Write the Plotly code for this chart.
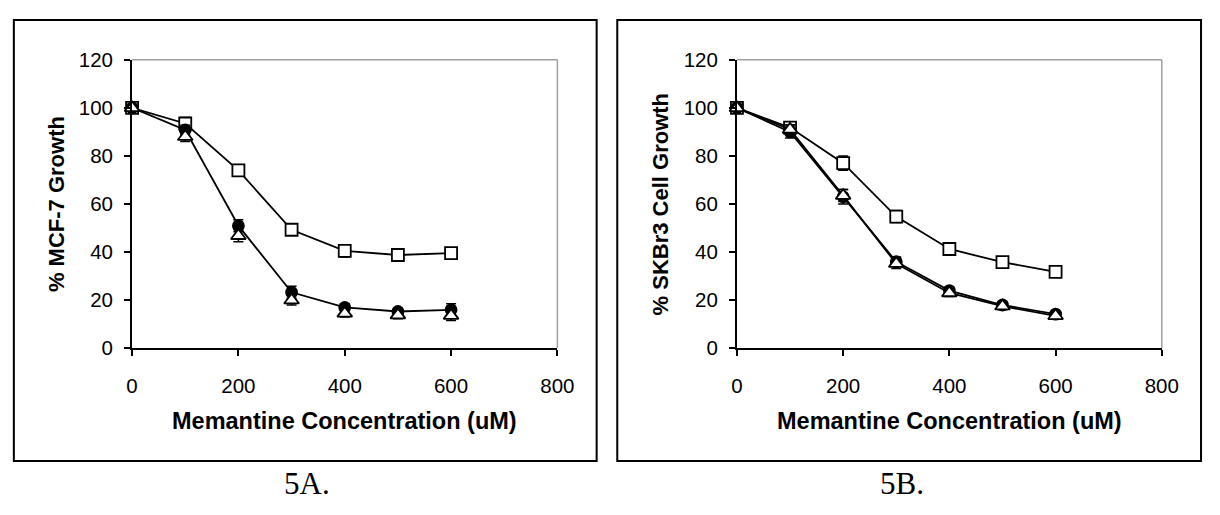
import plotly.graph_objects as go

# ---- data ----
conc = [0, 100, 200, 300, 400, 500, 600]

mcf7_square = [100, 93.5, 74, 49.3, 40.5, 38.8, 39.6]
mcf7_circle = [100, 90.8, 51, 23.3, 17, 15.3, 16]
mcf7_triangle = [100, 88, 46.8, 20, 14.5, 13.8, 13.6]
mcf7_square_err = [1, 2.5, 2, 2, 2.5, 1.5, 2]
mcf7_circle_err = [1, 2, 2.5, 2.5, 1.5, 1.5, 2.5]
mcf7_triangle_err = [1, 2, 2.5, 2, 1.5, 1.5, 2]

skbr3_square = [100, 91.8, 77, 54.8, 41.3, 35.8, 31.8]
skbr3_circle = [100, 90, 63, 36, 24, 18, 14.2]
skbr3_triangle = [100, 91, 63.5, 35.2, 23, 17.5, 13.5]
skbr3_square_err = [1, 1.5, 3, 2.5, 1.5, 1.5, 1.5]
skbr3_circle_err = [1, 2.5, 3, 2, 1.5, 1.5, 1]
skbr3_triangle_err = [1, 2, 2.5, 2, 1.5, 1.5, 1]

x_ticks = [0, 200, 400, 600, 800]
y_ticks = [0, 20, 40, 60, 80, 100, 120]

W, H = 1220, 515
def px(x):
    return x / W
def py(y):
    return (H - y) / H

fig = go.Figure()

def add_series(xa, ya, y, err, symbol, fill, size, with_line=True):
    fig.add_trace(go.Scatter(
        x=conc, y=y, xaxis=xa, yaxis=ya,
        mode="lines+markers" if with_line else "markers",
        line=dict(color="black", width=1.8),
        marker=dict(symbol=symbol, size=size, color=fill,
                    line=dict(color="black", width=1.8)),
        error_y=dict(type="data", array=err, visible=True,
                     color="black", thickness=1.5, width=5),
        cliponaxis=False, showlegend=False, hoverinfo="x+y"))

add_series("x", "y", mcf7_square, mcf7_square_err, "square", "white", 12)
add_series("x", "y", mcf7_circle, mcf7_circle_err, "circle", "black", 11)
add_series("x", "y", mcf7_triangle, mcf7_triangle_err, "triangle-up", "white", 13, with_line=False)
add_series("x2", "y2", skbr3_square, skbr3_square_err, "square", "white", 12)
add_series("x2", "y2", skbr3_circle, skbr3_circle_err, "circle", "black", 11)
add_series("x2", "y2", skbr3_triangle, skbr3_triangle_err, "triangle-up", "white", 13)

tick_font = dict(family="Liberation Sans, Arial, sans-serif", size=20.5, color="black")
xaxis_common = dict(range=[0, 800], tickvals=x_ticks, showline=True, linecolor="black",
                    linewidth=2, ticks="outside", ticklen=6, tickwidth=1.5,
                    tickcolor="black", showgrid=False, zeroline=False,
                    tickfont=tick_font, ticklabelstandoff=12)
yaxis_common = dict(range=[0, 120], tickvals=y_ticks, showline=True, linecolor="black",
                    linewidth=2, ticks="outside", ticklen=6, tickwidth=1.5,
                    tickcolor="black", showgrid=False, zeroline=False,
                    tickfont=tick_font, ticklabelstandoff=7)

yd = [py(352), py(50)]
fig.update_layout(
    width=W, height=H, margin=dict(l=0, r=0, t=0, b=0),
    paper_bgcolor="white", plot_bgcolor="white",
    xaxis=dict(domain=[px(128.5), px(562)], anchor="y", **xaxis_common),
    yaxis=dict(domain=yd, anchor="x", **yaxis_common),
    xaxis2=dict(domain=[px(745), px(1178)], anchor="y2", **xaxis_common),
    yaxis2=dict(domain=yd, anchor="x2", **yaxis_common),
)

shapes = []
for xr, yr in [("x domain", "y domain"), ("x2 domain", "y2 domain")]:
    shapes.append(dict(type="line", xref=xr, yref=yr, x0=0, x1=1, y0=1, y1=1,
                       line=dict(color="#a0a0a0", width=1.5), layer="below"))
    shapes.append(dict(type="line", xref=xr, yref=yr, x0=1, x1=1, y0=0, y1=1,
                       line=dict(color="#a0a0a0", width=1.5), layer="below"))
for x0, x1 in [(8, 602), (623, 1218)]:
    shapes.append(dict(type="rect", xref="paper", yref="paper",
                       x0=px(x0), x1=px(x1), y0=py(470), y1=py(8.5),
                       line=dict(color="black", width=2)))
fig.update_layout(shapes=shapes)

ytitle_font = dict(family="Liberation Sans, Arial, sans-serif", size=22, color="black")
xtitle_font = dict(family="Liberation Sans, Arial, sans-serif", size=23.5, color="black")
ann = []
for cx, ytitle in [(51, "% MCF-7 Growth"), (667, "% SKBr3 Cell Growth")]:
    ann.append(dict(text="<b>%s</b>" % ytitle, x=px(cx), y=py(201), xref="paper", yref="paper",
                    textangle=-90, showarrow=False, font=ytitle_font,
                    xanchor="center", yanchor="middle"))
for cx in [345, 961.5]:
    ann.append(dict(text="<b>Memantine Concentration (uM)</b>", x=px(cx), y=py(428),
                    xref="paper", yref="paper", showarrow=False, font=xtitle_font,
                    xanchor="center", yanchor="middle"))
for cx, cap in [(307, "5A."), (913, "5B.")]:
    ann.append(dict(text=cap, x=px(cx), y=py(494), xref="paper", yref="paper",
                    showarrow=False, xanchor="center", yanchor="middle",
                    font=dict(family="Liberation Serif, Times New Roman, serif", size=31, color="black")))
fig.update_layout(annotations=ann)

fig.write_html("out.html")
